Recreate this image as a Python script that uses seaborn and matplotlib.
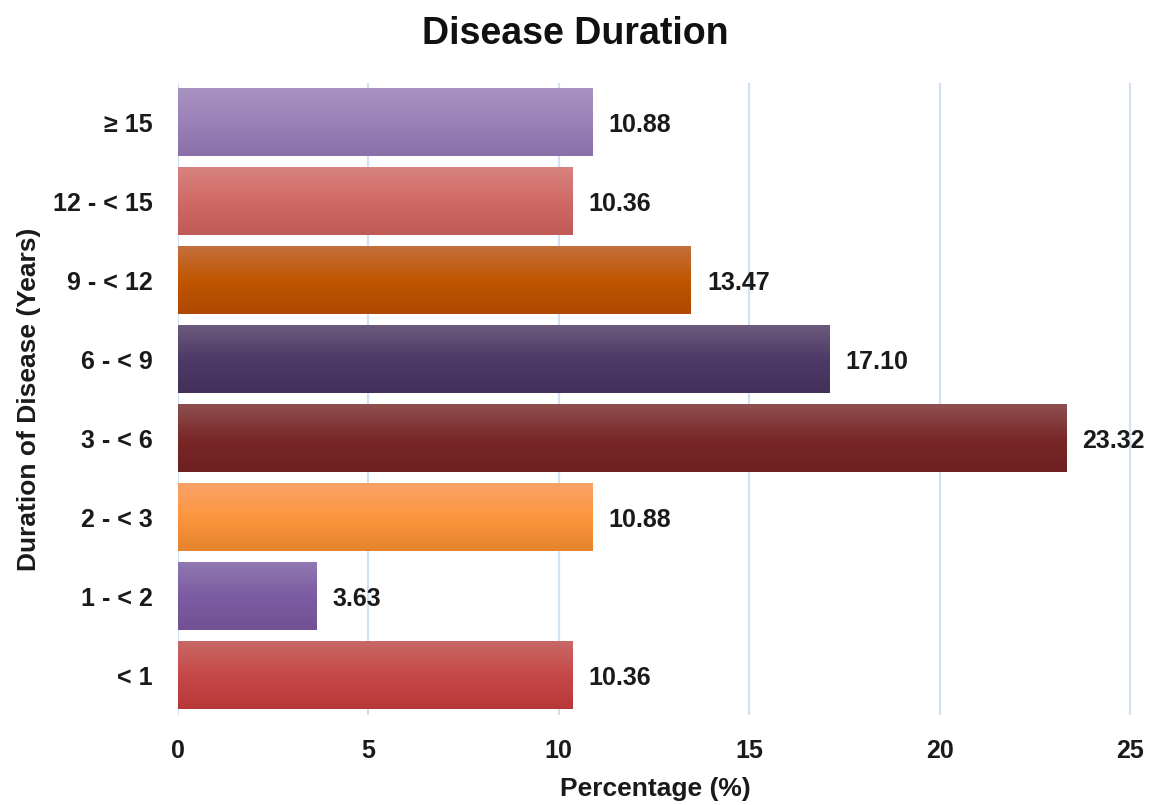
import numpy as np
import pandas as pd
import matplotlib
matplotlib.use("Agg")
import matplotlib.pyplot as plt
from matplotlib.colors import to_rgb
import seaborn as sns

# Data
categories = ["\u2265 15", "12 - < 15", "9 - < 12", "6 - < 9", "3 - < 6", "2 - < 3", "1 - < 2", "< 1"]
percentages = [10.88, 10.36, 13.47, 17.10, 23.32, 10.88, 3.63, 10.36]
x_ticks = [0, 5, 10, 15, 20, 25]

# Vertical gradient stops (top, middle, bottom) for each bar
gradients = [
    ("#A993C1", "#9A81B8", "#8A70A8"),
    ("#D8837F", "#D06A66", "#C05A57"),
    ("#C4703F", "#C05600", "#AF4800"),
    ("#6A5A7C", "#4E3A66", "#42305A"),
    ("#8E5050", "#7A2828", "#6E1F1F"),
    ("#F8A268", "#FD963E", "#E5832E"),
    ("#9078B0", "#7C5CA2", "#725094"),
    ("#C86966", "#C64848", "#B83838"),
]

sns.set_theme(style="white")
plt.rcParams["font.family"] = ["Liberation Sans", "DejaVu Sans"]
plt.rcParams["font.weight"] = "bold"

df = pd.DataFrame({"duration": categories, "pct": percentages})

fig = plt.figure(figsize=(11.58, 8.05), dpi=100)
ax = fig.add_axes([0.1537, 0.1118, 0.8238, 0.7851])

sns.barplot(data=df, y="duration", x="pct", order=categories, orient="h",
            width=0.86, color="#999999", ax=ax, zorder=2)

xlim = (0, 25.05)
ylim = (len(categories) - 0.5, -0.5)

for patch, (c_top, c_mid, c_bot) in zip(ax.patches, gradients):
    x0, y0 = patch.get_x(), patch.get_y()
    w, h = patch.get_width(), patch.get_height()
    n = 100
    t = np.linspace(0, 1, n)
    top, mid, bot = (np.array(to_rgb(c)) for c in (c_top, c_mid, c_bot))
    cols = np.where(t[:, None] < 0.5,
                    top + (mid - top) * (t[:, None] / 0.5),
                    mid + (bot - mid) * ((t[:, None] - 0.5) / 0.5))
    img = cols[:, None, :]
    ax.imshow(img, extent=(x0, x0 + w, y0 + h, y0), origin="upper",
              aspect="auto", interpolation="bilinear", zorder=3)
    patch.set_visible(False)

# Value labels
for i, v in enumerate(percentages):
    ax.text(v + 0.42, i + 0.035, f"{v:.2f}", va="center", ha="left",
            fontsize=18, fontweight="bold", color="#1a1a1a", zorder=4)

ax.set_xlim(*xlim)
ax.set_ylim(*ylim)
ax.set_xticks(x_ticks)
ax.set_xticklabels([str(t) for t in x_ticks], fontsize=18, fontweight="bold", color="#1a1a1a")
ax.set_yticks(range(len(categories)))
ax.set_yticklabels(categories, fontsize=18, fontweight="bold", color="#1a1a1a")
ax.tick_params(axis="x", length=0, pad=17)
ax.tick_params(axis="y", length=0, pad=18)

ax.grid(axis="x", color="#D3E2F3", linewidth=1.6, zorder=0)
ax.grid(axis="y", visible=False)
ax.set_axisbelow(True)
for s in ax.spines.values():
    s.set_visible(False)

ax.set_xlabel("Percentage (%)", fontsize=19, fontweight="bold", color="#1a1a1a", labelpad=10)
ax.set_ylabel("Duration of Disease (Years)", fontsize=19, fontweight="bold", color="#1a1a1a", labelpad=9)
fig.suptitle("Disease Duration", fontsize=27, fontweight="bold", color="#111111", x=0.497, y=0.98)

fig.savefig("out.png", dpi=100, facecolor="white")
